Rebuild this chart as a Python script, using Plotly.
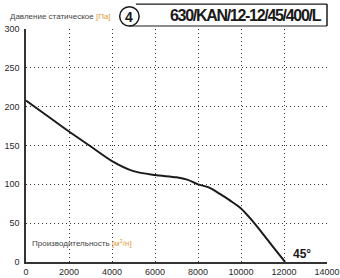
import plotly.graph_objects as go

flow = [0, 1000, 2000, 3000, 4000, 5000, 6000, 7000, 7500, 8000, 8500, 9000, 9500, 10000, 10500, 11000, 11500, 12050]
pressure = [208, 188, 168, 149, 130, 117, 112, 109, 106, 100, 96, 88, 79, 69, 54, 37, 19, 0]
x_ticks = [0, 2000, 4000, 6000, 8000, 10000, 12000, 14000]
x_labels = ["0", "2000", "4000", "6000", "8000", "10000", "12000", "14000"]
y_ticks = [0, 50, 100, 150, 200, 250, 300]
model = "630/KAN/12-12/45/400/L"
curve_no = "4"
angle = "45°"

W, H = 340, 278
L, R, T, B = 26.3, 13.3, 29, 15.7
pw, ph = W - L - R, H - T - B


def px(x):
    return (x - L) / pw


def py(y):
    return (H - B - y) / ph


fig = go.Figure()
fig.add_trace(go.Scatter(x=flow, y=pressure, mode="lines",
                         line=dict(color="#1a1a1a", width=2, shape="spline", smoothing=0.8),
                         hoverinfo="skip", showlegend=False))

grid = dict(showgrid=True, gridcolor="#333333", griddash="1px,3px", gridwidth=1,
            zeroline=False, showline=True, linecolor="#333333", linewidth=1.5,
            automargin=False,
            ticks="", tickfont=dict(family="Liberation Sans, Arial, sans-serif", size=9, color="#2a2a2a"))

fig.update_xaxes(range=[0, 14000], tickvals=x_ticks, ticktext=x_labels, **grid)
fig.update_yaxes(range=[0, 300], tickvals=y_ticks, ticklabelstandoff=3, **grid)

shapes = [
    dict(type="circle", xref="paper", yref="paper", x0=px(119.8), x1=px(139.2), y0=py(26), y1=py(6.6),
         line=dict(color="#1a1a1a", width=1.5)),
    dict(type="line", xref="paper", yref="paper", x0=px(136), x1=px(326.7), y0=py(4), y1=py(4),
         line=dict(color="#1a1a1a", width=1.2)),
    dict(type="line", xref="paper", yref="paper", x0=px(326.7), x1=px(326.7), y0=py(4), y1=py(26),
         line=dict(color="#1a1a1a", width=1.5)),
    dict(type="line", xref="paper", yref="paper", x0=px(129.5), x1=px(326.7), y0=py(26), y1=py(26),
         line=dict(color="#1a1a1a", width=1.2)),
]

annotations = [
    dict(text="Давление статическое <span style='color:#e39b3a'>[Па]</span>", xref="paper", yref="paper",
         x=px(8), y=py(16), xanchor="left", yanchor="middle", showarrow=False,
         font=dict(family="Liberation Sans, Arial, sans-serif", size=8, color="#444444")),
    dict(text="<b>" + curve_no + "</b>", xref="paper", yref="paper",
         x=px(129.5), y=py(16.5), xanchor="center", yanchor="middle", showarrow=False,
         font=dict(family="Liberation Sans, Arial, sans-serif", size=14, color="#1a1a1a")),
    dict(text="<span style='letter-spacing:-1.3px'><b>" + model + "</b></span>", xref="paper", yref="paper",
         x=px(324), y=py(15), xanchor="right", yanchor="middle", showarrow=False,
         font=dict(family="Liberation Sans, Arial, sans-serif", size=16, color="#1a1a1a")),
    dict(text="Производительность <span style='color:#e39b3a'>[м<sup>3</sup>/н]</span>", xref="paper", yref="paper",
         x=px(30), y=py(243), xanchor="left", yanchor="middle", showarrow=False,
         font=dict(family="Liberation Sans, Arial, sans-serif", size=8, color="#444444")),
    dict(text="<b>" + angle + "</b>", xref="paper", yref="paper",
         x=px(291), y=py(254), xanchor="left", yanchor="middle", showarrow=False,
         font=dict(family="Liberation Sans, Arial, sans-serif", size=12, color="#1a1a1a")),
]

fig.update_layout(width=W, height=H, margin=dict(l=L, r=R, t=T, b=B, autoexpand=False),
                  paper_bgcolor="white", plot_bgcolor="white",
                  shapes=shapes, annotations=annotations, showlegend=False)

fig.write_html("out.html", config=dict(displayModeBar=False))
